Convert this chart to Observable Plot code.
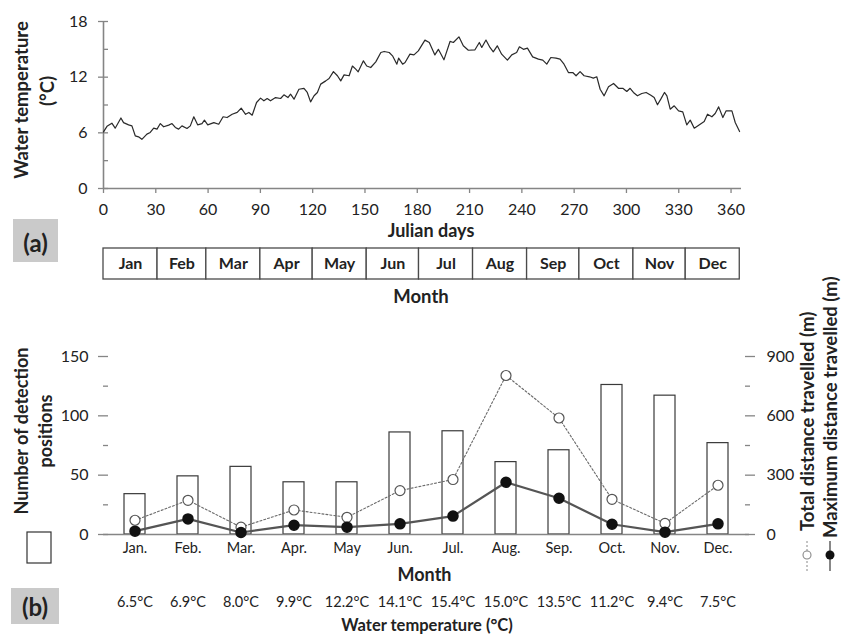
<!DOCTYPE html>
<html><head><meta charset="utf-8">
<script src="https://cdn.jsdelivr.net/npm/d3@7"></script>
<script src="https://cdn.jsdelivr.net/npm/@observablehq/plot@0.6"></script>
<style>
body{margin:0;background:#fff;}
#root{position:relative;width:841px;height:635px;overflow:hidden;background:#fff;}
#root > svg{position:absolute;left:0;max-width:none;}
</style></head><body><div id="root"></div>
<script>
// ---------- data: panel (a) daily water temperature ----------
const tempDays = [0,2,4.8,6.7,10,11.5,14.4,16.3,18.2,20.1,22,23.4,24.9,26.8,28.8,30.7,32.6,34.5,37.4,39.3,41.2,43.1,45,47.9,49.8,51.8,54,56.5,57.9,59.8,63.3,66.1,68.6,70.9,73.8,76.7,79,81.5,83.4,85.3,87.8,90.1,92,93.9,95.8,98.7,101.6,103.5,105.8,107.3,109.3,112.1,115,116.9,118.8,120.8,122.7,124.6,127.5,129.4,131.9,134.2,136.1,138,140.9,142.8,144.7,146.1,149.1,151,153.3,156.2,159.1,161,163.9,165.8,168.3,169.3,171.6,173,175.8,178.1,180.6,184.4,186.9,190.1,192.1,195.3,198.8,200.7,203.9,206.4,209.3,213.1,215.6,217,219.4,221.7,223.6,225.9,228.4,231.7,234.2,237,238.6,240.9,243.2,246.2,249.5,252,254.3,256.6,259.6,261.9,264.2,266.7,269.2,271.1,273.4,275.7,278.8,281,283,284.9,287.2,289.7,292.6,295.4,297.9,300.2,302.1,304,306.3,308.8,311.3,314,315.9,317.8,319.7,321.8,323.2,325.1,327.4,329.9,332.3,334.6,336.6,338.9,342.3,344.6,346.5,349,350.9,352.9,355.3,357.2,360.5,362.4,364.9];
const tempValues = [6.1,6.7,7.04,6.5,7.6,7.1,6.86,6.75,5.68,5.57,5.3,5.57,5.86,6.04,6.5,6.4,7.0,6.65,6.83,7.0,6.58,6.4,6.75,6.47,6.75,7.73,6.86,7.0,7.37,6.86,7.1,6.93,7.73,7.65,8.0,8.2,8.66,8.0,8.2,7.9,9.27,9.74,9.45,9.7,9.45,9.8,9.7,10.1,9.8,10.17,9.63,10.7,10.8,10.35,9.34,10.0,10.35,11.25,11.6,11.86,12.6,12.15,11.6,12.25,12.15,13.2,12.86,12.58,13.76,13.2,13.04,13.65,14.66,14.77,14.66,14.3,13.4,14.05,13.4,13.58,14.48,14.4,14.84,15.99,15.74,14.4,15.0,13.87,15.85,15.74,16.35,15.38,14.9,14.95,15.74,15.2,16.0,15.2,14.73,15.38,14.48,13.83,14.4,14.66,15.27,15.0,15.13,14.19,13.94,13.83,13.4,14.12,14.05,13.94,13.4,12.5,12.5,12.15,12.6,12.15,12.04,11.9,12.04,10.7,9.99,10.96,11.32,10.8,10.8,10.46,10.8,10.35,9.99,10.24,10.35,10.06,9.81,9.02,9.63,10.35,9.99,8.55,8.91,8.37,8.26,6.86,7.37,6.5,6.93,7.22,8.01,7.73,8.08,8.8,7.65,8.37,8.37,7.11,6.14];
const dayTicks = [0,30,60,90,120,150,180,210,240,270,300,330,360];
const tempTicks = [0,6,12,18];
const tempMinorTicks = [3,9,15];

// ---------- data: month table ----------
const monthNames = ["Jan","Feb","Mar","Apr","May","Jun","Jul","Aug","Sep","Oct","Nov","Dec"];
const monthStart = [0,31,59,90,120,151,181,212,243,273,304,334];
const monthEnd = [31,59,90,120,151,181,212,243,273,304,334,365];

// ---------- data: panel (b) ----------
const monthLabels = ["Jan.","Feb.","Mar.","Apr.","May","Jun.","Jul.","Aug.","Sep.","Oct.","Nov.","Dec."];
const monthTemps = ["6.5°C","6.9°C","8.0°C","9.9°C","12.2°C","14.1°C","15.4°C","15.0°C","13.5°C","11.2°C","9.4°C","7.5°C"];
const detections = [34,49,57,44,44,86,87,61,71,126,117,77];
const totalDistance = [72,173,37,124,87,222,278,804,589,178,56,249];
const maxDistance = [17,79,10,47,37,54,93,264,183,52,12,54];
const countTicks = [0,50,100,150];
const countMinorTicks = [25,75,125];
const distanceMax = 900;

// ---------- build ----------
const FONT = "Lato, 'Open Sans', sans-serif";
const AX = "#858585";
const TXT = "#222";
const root = document.getElementById("root");
const blank = () => "";

const tempData = tempDays.map((d, i) => ({day: d, temp: tempValues[i]}));

const pa = Plot.plot({
  width: 841, height: 240,
  marginLeft: 103, marginRight: 100, marginTop: 21, marginBottom: 52,
  style: {fontFamily: FONT, fontSize: "16px", color: TXT, overflow: "visible"},
  x: {domain: [0, 366]},
  y: {domain: [0, 18]},
  marks: [
    Plot.ruleY([0], {stroke: AX, strokeWidth: 1.6}),
    Plot.ruleX([0], {stroke: AX, strokeWidth: 1.6}),
    Plot.axisX({ticks: dayTicks, tickSize: 5, tickPadding: 10, stroke: AX, strokeWidth: 1.3, label: null, fill: TXT}),
    Plot.axisY({ticks: tempTicks, tickSize: 10, dx: 5, stroke: AX, strokeWidth: 1.3, tickFormat: blank, label: null}),
    Plot.axisY({ticks: tempMinorTicks, tickSize: 5, dx: 5, stroke: AX, strokeWidth: 1.3, tickFormat: blank, label: null}),
    Plot.axisY({ticks: tempTicks, tickSize: 0, tickPadding: 16, label: null, fill: TXT}),
    Plot.line(tempData, {x: "day", y: "temp", stroke: "#2a2a2a", strokeWidth: 1.2, curve: "linear"})
  ]
});
pa.style.top = "0px";
root.appendChild(pa);

const months = monthNames.map((m, i) => ({name: m, start: monthStart[i], end: monthEnd[i]}));
const pm = Plot.plot({
  width: 841, height: 80,
  marginLeft: 103, marginRight: 100, marginTop: 8, marginBottom: 41,
  style: {fontFamily: FONT, fontSize: "16px", color: TXT, overflow: "visible"},
  x: {domain: [0, 366], axis: null},
  y: {domain: [0, 1], axis: null},
  marks: [
    Plot.rect(months, {x1: "start", x2: "end", y1: 0, y2: 1, fill: "white", stroke: "#4a4a4a", strokeWidth: 1.3}),
    Plot.text(months, {x: d => (d.start + d.end) / 2, y: 0.5, text: "name", fontWeight: "bold", fontSize: 16, fill: TXT})
  ]
});
pm.style.top = "240px";
root.appendChild(pm);

const ratio = distanceMax / 150;
const bData = monthLabels.map((m, i) => ({month: m, det: detections[i], total: totalDistance[i], max: maxDistance[i]}));
const pb = Plot.plot({
  width: 841, height: 315,
  marginLeft: 103, marginRight: 92, marginTop: 36, marginBottom: 101,
  style: {fontFamily: FONT, fontSize: "16px", color: TXT, overflow: "visible"},
  x: {type: "band", domain: monthLabels, paddingInner: 0.595, paddingOuter: 0.32},
  y: {domain: [0, 150]},
  marks: [
    Plot.barY(bData, {x: "month", y: "det", fill: "white", stroke: "#3a3a3a", strokeWidth: 1.2}),
    Plot.ruleY([0], {stroke: AX, strokeWidth: 1.6}),
    Plot.axisY({anchor: "left", ticks: countTicks, tickSize: 10, dx: 5, stroke: AX, strokeWidth: 1.3, tickFormat: blank, label: null, line: true}),
    Plot.axisY({anchor: "left", ticks: countMinorTicks, tickSize: 5, dx: 5, stroke: AX, strokeWidth: 1.3, tickFormat: blank, label: null}),
    Plot.axisY({anchor: "left", ticks: countTicks, tickSize: 0, tickPadding: 15, label: null, fill: TXT}),
    Plot.axisY({anchor: "right", ticks: countTicks, tickSize: 10, dx: -5, stroke: AX, strokeWidth: 1.3, tickFormat: blank, label: null, line: true}),
    Plot.axisY({anchor: "right", ticks: countMinorTicks, tickSize: 5, dx: -5, stroke: AX, strokeWidth: 1.3, tickFormat: blank, label: null}),
    Plot.axisY({anchor: "right", ticks: countTicks, tickSize: 0, tickPadding: 17, tickFormat: d => d * ratio, label: null, fill: TXT}),
    Plot.axisX({tickSize: 0, tickPadding: 8, label: null, fontSize: 14.5, fill: TXT}),
    Plot.axisX({tickSize: 0, tickPadding: 62, label: null, fontSize: 14.5, fill: TXT, tickFormat: d => monthTemps[monthLabels.indexOf(d)]}),
    Plot.line(bData, {x: "month", y: d => d.total / ratio, stroke: "#6a6a6a", strokeWidth: 1.1, strokeDasharray: "2,2"}),
    Plot.line(bData, {x: "month", y: d => d.max / ratio, stroke: "#555", strokeWidth: 2.2}),
    Plot.dot(bData, {x: "month", y: d => d.total / ratio, r: 5, fill: "white", stroke: "#555", strokeWidth: 1.2}),
    Plot.dot(bData, {x: "month", y: d => d.max / ratio, r: 5, fill: "#111", stroke: "#111"})
  ]
});
pb.style.top = "320px";
root.appendChild(pb);

// ---------- annotation overlay: titles, panel tags, legend ----------
const svg = d3.create("svg").attr("width", 841).attr("height", 635)
  .style("position", "absolute").style("top", "0px").style("left", "0px")
  .style("font-family", FONT).style("pointer-events", "none");

function label(txt, x, y, opts = {}) {
  return svg.append("text")
    .attr("transform", `translate(${x},${y})` + (opts.rotate ? " rotate(-90)" : ""))
    .attr("text-anchor", opts.anchor || "middle")
    .attr("dominant-baseline", "central")
    .attr("font-size", opts.size || 18.5)
    .attr("font-weight", opts.weight || "bold")
    .attr("fill", TXT)
    .text(txt);
}
// panel (a)
label("Water temperature", 21, 100, {rotate: true});
label("(°C)", 47, 91, {rotate: true});
label("Julian days", 431, 229.5, {size: 18});
label("Month", 421, 296);
svg.append("rect").attr("x", 13).attr("y", 219).attr("width", 45).attr("height", 43).attr("fill", "#cacaca");
label("(a)", 35.5, 242, {size: 24});

// panel (b)
label("Number of detection", 20.5, 431, {rotate: true, size: 18});
label("positions", 45, 431, {rotate: true, size: 18});
svg.append("rect").attr("x", 27).attr("y", 532).attr("width", 24).attr("height", 31)
  .attr("fill", "white").attr("stroke", "#333").attr("stroke-width", 1.2);
label("Month", 424.5, 574, {size: 18});
label("Water temperature (°C)", 427, 624.5, {size: 16.5});
svg.append("rect").attr("x", 11).attr("y", 588).attr("width", 48).attr("height", 36).attr("fill", "#cacaca");
label("(b)", 35, 606, {size: 24});

label("Total distance travelled (m)", 807, 531, {rotate: true, anchor: "start", size: 18.5});
label("Maximum distance travelled (m)", 830, 538, {rotate: true, anchor: "start", size: 18.5});
svg.append("line").attr("x1", 807).attr("x2", 807).attr("y1", 541).attr("y2", 571)
  .attr("stroke", "#888").attr("stroke-width", 1).attr("stroke-dasharray", "2,2");
svg.append("circle").attr("cx", 807).attr("cy", 555).attr("r", 4).attr("fill", "white").attr("stroke", "#888").attr("stroke-width", 1.1);
svg.append("line").attr("x1", 830).attr("x2", 830).attr("y1", 541).attr("y2", 571)
  .attr("stroke", "#555").attr("stroke-width", 1.4);
svg.append("circle").attr("cx", 830).attr("cy", 555).attr("r", 4.5).attr("fill", "#111");

root.appendChild(svg.node());
</script>
</body></html>
